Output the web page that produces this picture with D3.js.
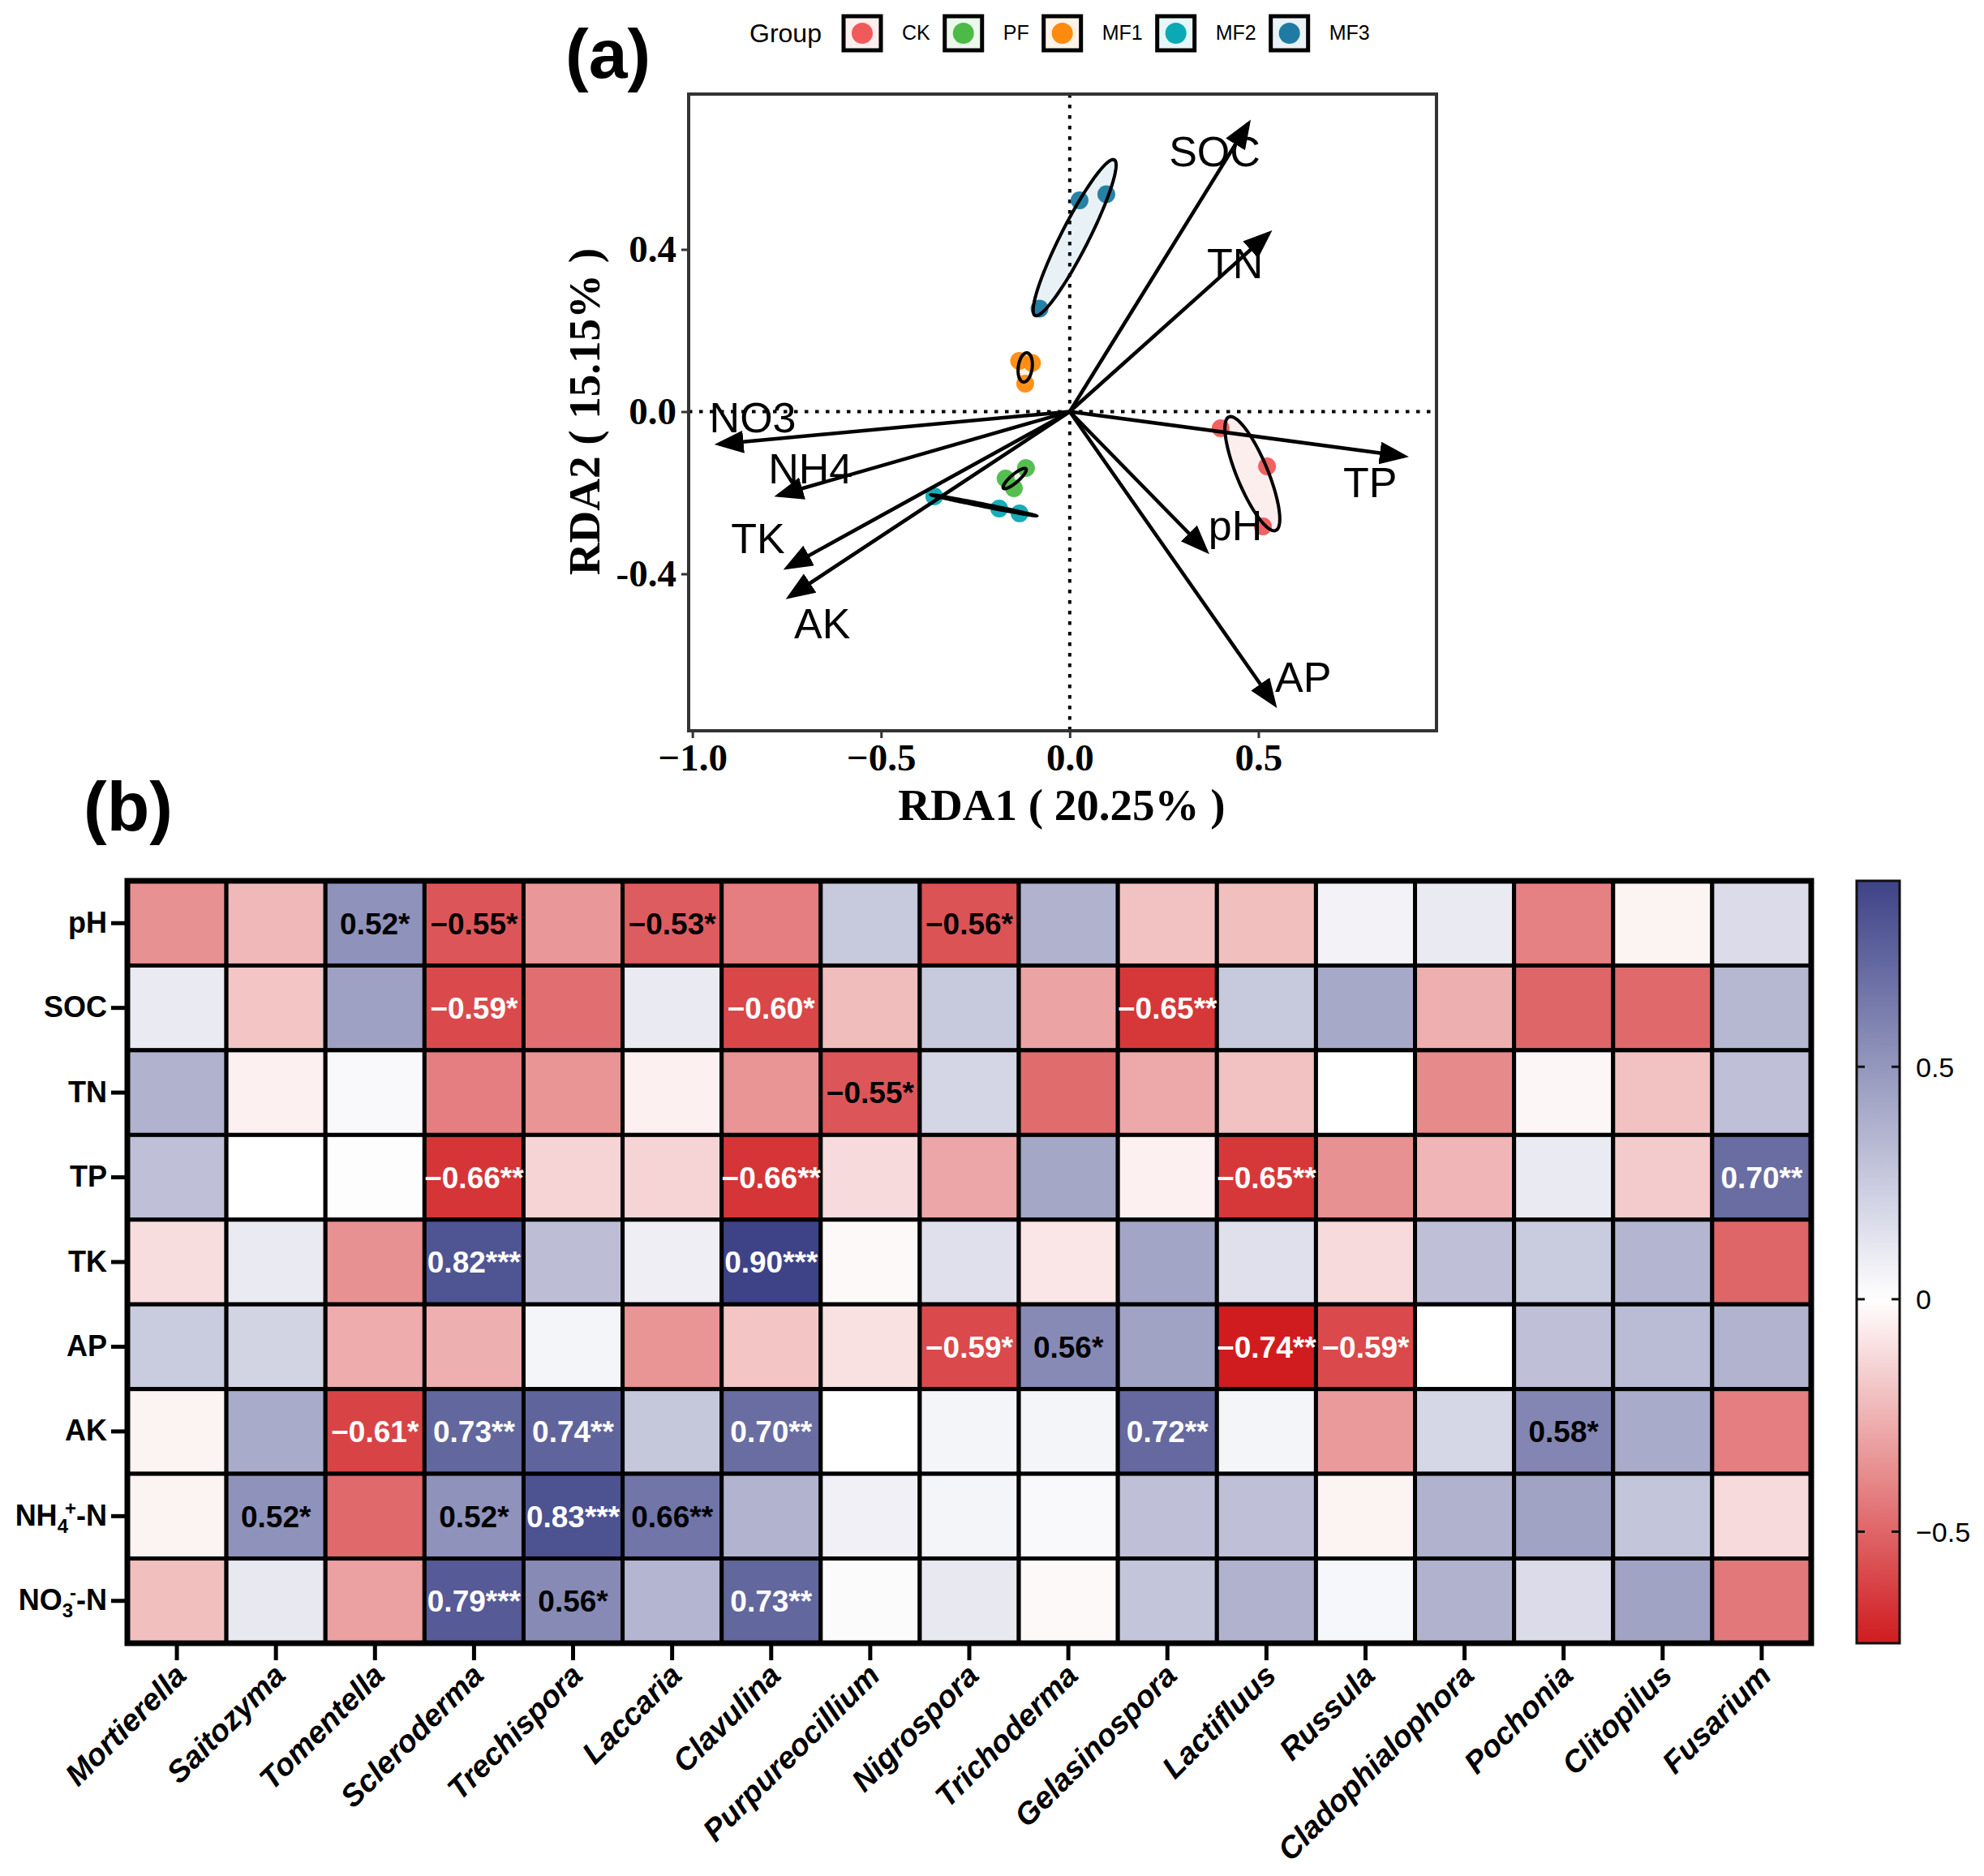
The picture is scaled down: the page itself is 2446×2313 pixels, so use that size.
<!DOCTYPE html>
<html>
<head>
<meta charset="utf-8">
<script src="https://cdn.jsdelivr.net/npm/d3@7"></script>
<style>
  body { margin: 0; background: #fff; }
</style>
</head>
<body>
<div id="chart"></div>
<script>
// ---------- (a) RDA ----------
const groups = ["CK", "PF", "MF1", "MF2", "MF3"];
const groupColors = ["#F05A5A", "#4DBA48", "#FF8A0D", "#0AA9B5", "#1E7BA3"];

// 样本点
const sampleGroup = ["MF3", "MF3", "MF3", "MF1", "MF1", "MF1", "PF", "PF", "PF", "MF2", "MF2", "MF2", "CK", "CK", "CK"];
const sampleX = [0.026, 0.097, -0.080, -0.134, -0.100, -0.118, -0.116, -0.170, -0.148, -0.359, -0.187, -0.133, 0.400, 0.523, 0.512];
const sampleY = [0.521, 0.536, 0.254, 0.125, 0.120, 0.069, -0.139, -0.165, -0.189, -0.209, -0.239, -0.251, -0.041, -0.135, -0.283];

// 置信椭圆：中心 + 两个半轴向量（数据坐标）
const ellGroup = ["MF3", "MF1", "PF", "MF2", "CK"];
const ellCx = [0.013, -0.118, -0.146, -0.228, 0.484];
const ellCy = [0.429, 0.109, -0.165, -0.231, -0.153];
const ellAx = [0.105, 0.004, 0.030, 0.140, 0.062];
const ellAy = [0.192, 0.036, 0.024, -0.026, -0.140];
const ellBx = [0.0325, 0.0185, 0.007, -0.0006, 0.038];
const ellBy = [-0.0155, 0, -0.0076, -0.003, 0.0146];

// 环境因子箭头
const envNames = ["SOC", "TN", "TP", "pH", "AP", "NO3", "NH4", "TK", "AK"];
const envX = [0.473, 0.527, 0.886, 0.361, 0.542, -0.929, -0.771, -0.748, -0.742];
const envY = [0.710, 0.439, -0.110, -0.343, -0.721, -0.080, -0.206, -0.384, -0.456];
const envLabelX = [0.384, 0.438, 0.796, 0.439, 0.619, -0.840, -0.687, -0.826, -0.656];
const envLabelY = [0.642, 0.366, -0.174, -0.280, -0.654, -0.014, -0.139, -0.312, -0.522];

const xTicks = [-1.0, -0.5, 0.0, 0.5];
const yTicks = [-0.4, 0.0, 0.4];

// ---------- (b) 热图 ----------
const genera = ["Mortierella", "Saitozyma", "Tomentella", "Scleroderma", "Trechispora", "Laccaria", "Clavulina",
  "Purpureocillium", "Nigrospora", "Trichoderma", "Gelasinospora", "Lactifluus", "Russula", "Cladophialophora",
  "Pochonia", "Clitopilus", "Fusarium"];
const soilVars = ["pH", "SOC", "TN", "TP", "TK", "AP", "AK", "NH4", "NO3"];

const corr = [
  [-0.36, -0.23, 0.52, -0.55, -0.34, -0.53, -0.42, 0.26, -0.56, 0.37, -0.20, -0.21, 0.06, 0.10, -0.41, -0.04, 0.17],
  [0.10, -0.19, 0.45, -0.59, -0.47, 0.10, -0.60, -0.22, 0.26, -0.30, -0.65, 0.26, 0.41, -0.26, -0.50, -0.49, 0.34],
  [0.37, -0.05, 0.03, -0.42, -0.35, -0.05, -0.35, -0.55, 0.20, -0.48, -0.28, -0.20, 0.00, -0.38, -0.03, -0.20, 0.30],
  [0.30, 0.00, 0.01, -0.66, -0.14, -0.14, -0.66, -0.12, -0.29, 0.42, -0.05, -0.65, -0.36, -0.24, 0.10, -0.17, 0.70],
  [-0.11, 0.10, -0.36, 0.82, 0.31, 0.08, 0.90, -0.02, 0.15, -0.08, 0.43, 0.15, -0.12, 0.30, 0.25, 0.35, -0.50],
  [0.25, 0.21, -0.27, -0.26, 0.05, -0.35, -0.19, -0.10, -0.59, 0.56, 0.44, -0.74, -0.59, 0.00, 0.30, 0.32, 0.36],
  [-0.04, 0.40, -0.61, 0.73, 0.74, 0.27, 0.70, 0.00, 0.05, 0.05, 0.72, 0.05, -0.33, 0.19, 0.58, 0.40, -0.42],
  [-0.04, 0.52, -0.49, 0.52, 0.83, 0.66, 0.36, 0.07, 0.05, 0.03, 0.30, 0.30, -0.04, 0.37, 0.44, 0.28, -0.12],
  [-0.21, 0.11, -0.31, 0.79, 0.56, 0.35, 0.73, 0.02, 0.11, -0.02, 0.28, 0.37, 0.04, 0.37, 0.17, 0.44, -0.44]
];
const stars = [
  ["", "", "*", "*", "", "*", "", "", "*", "", "", "", "", "", "", "", ""],
  ["", "", "", "*", "", "", "*", "", "", "", "**", "", "", "", "", "", ""],
  ["", "", "", "", "", "", "", "*", "", "", "", "", "", "", "", "", ""],
  ["", "", "", "**", "", "", "**", "", "", "", "", "**", "", "", "", "", "**"],
  ["", "", "", "***", "", "", "***", "", "", "", "", "", "", "", "", "", ""],
  ["", "", "", "", "", "", "", "", "*", "*", "", "**", "*", "", "", "", ""],
  ["", "", "*", "**", "**", "", "**", "", "", "", "**", "", "", "", "*", "", ""],
  ["", "*", "", "*", "***", "**", "", "", "", "", "", "", "", "", "", "", ""],
  ["", "", "", "***", "*", "", "**", "", "", "", "", "", "", "", "", "", ""]
];
const cbTicks = [-0.5, 0, 0.5];

const FONT_SANS = "Arial, 'Liberation Sans', Helvetica, sans-serif";
const FONT_SERIF = "'Times New Roman', 'Liberation Serif', serif";

const svg = d3.select("#chart").append("svg")
  .attr("width", 2446)
  .attr("height", 2313)
  .style("background", "#fff");

// ================= (a) =================
const x = d3.scaleLinear().domain([-1.01, 0.972]).range([849, 1771]);
const y = d3.scaleLinear().domain([-0.787, 0.783]).range([901, 116]);
const colorOf = d3.scaleOrdinal().domain(groups).range(groupColors);

const pa = svg.append("g");
const [x0, x1] = x.range();
const [y1, y0] = y.range();

// 零线
pa.append("line")
  .attr("x1", x(0)).attr("x2", x(0)).attr("y1", y0).attr("y2", y1)
  .attr("stroke", "#000").attr("stroke-width", 4).attr("stroke-dasharray", "4.5,8.5");
pa.append("line")
  .attr("x1", x0).attr("x2", x1).attr("y1", y(0)).attr("y2", y(0))
  .attr("stroke", "#000").attr("stroke-width", 4).attr("stroke-dasharray", "4.5,8.5");

// 样本点
pa.selectAll(".pt")
  .data(sampleX.map((d, i) => ({ x: d, y: sampleY[i], g: sampleGroup[i] })))
  .enter()
  .append("circle")
  .attr("class", "pt")
  .attr("cx", d => x(d.x))
  .attr("cy", d => y(d.y))
  .attr("r", 11)
  .attr("fill", d => colorOf(d.g))
  .attr("opacity", 0.95);

// 椭圆
const ellLine = d3.line().curve(d3.curveLinearClosed);
ellGroup.forEach((g, i) => {
  const pts = d3.range(0, 120).map(k => {
    const t = k / 120 * 2 * Math.PI;
    return [
      x(ellCx[i] + ellAx[i] * Math.cos(t) + ellBx[i] * Math.sin(t)),
      y(ellCy[i] + ellAy[i] * Math.cos(t) + ellBy[i] * Math.sin(t))
    ];
  });
  pa.append("path")
    .attr("d", ellLine(pts))
    .attr("fill", colorOf(g))
    .attr("fill-opacity", 0.1)
    .attr("stroke", "#000")
    .attr("stroke-width", 4);
});

// 箭头
svg.append("defs").append("marker")
  .attr("id", "arrow")
  .attr("markerUnits", "userSpaceOnUse")
  .attr("viewBox", "0 0 36 28")
  .attr("markerWidth", 36)
  .attr("markerHeight", 28)
  .attr("refX", 30)
  .attr("refY", 14)
  .attr("orient", "auto")
  .append("path")
  .attr("d", "M0,0 L36,14 L0,28 Z")
  .attr("fill", "#000");

pa.selectAll(".env")
  .data(envNames)
  .enter()
  .append("line")
  .attr("class", "env")
  .attr("x1", x(0)).attr("y1", y(0))
  .attr("x2", (d, i) => x(envX[i]))
  .attr("y2", (d, i) => y(envY[i]))
  .attr("stroke", "#000")
  .attr("stroke-width", 4.5)
  .attr("marker-end", "url(#arrow)");

pa.selectAll(".env-label")
  .data(envNames)
  .enter()
  .append("text")
  .attr("class", "env-label")
  .attr("x", (d, i) => x(envLabelX[i]))
  .attr("y", (d, i) => y(envLabelY[i]))
  .attr("dy", "0.36em")
  .attr("text-anchor", "middle")
  .attr("font-family", FONT_SANS)
  .attr("font-size", 52)
  .attr("fill", "#000")
  .text(d => d);

// 边框
pa.append("rect")
  .attr("x", x0).attr("y", y0)
  .attr("width", x1 - x0).attr("height", y1 - y0)
  .attr("fill", "none").attr("stroke", "#333").attr("stroke-width", 4);

// 坐标轴
const xAxisG = pa.append("g")
  .attr("transform", `translate(0,${y1})`)
  .call(d3.axisBottom(x).tickValues(xTicks).tickSize(9).tickPadding(7).tickFormat(d3.format(".1f")));
const yAxisG = pa.append("g")
  .attr("transform", `translate(${x0},0)`)
  .call(d3.axisLeft(y).tickValues(yTicks).tickSize(9).tickPadding(6)
    .tickFormat(d => d3.format(".1f")(d).replace("\u2212", "-")));
[xAxisG, yAxisG].forEach(g => {
  g.select(".domain").remove();
  g.selectAll("line").attr("stroke", "#333").attr("stroke-width", 3);
  g.selectAll("text")
    .attr("font-family", FONT_SERIF)
    .attr("font-weight", "bold")
    .attr("font-size", 47)
    .attr("fill", "#000");
});

pa.append("text")
  .attr("x", (x0 + x1) / 2 - 1)
  .attr("y", 1011)
  .attr("text-anchor", "middle")
  .attr("font-family", FONT_SERIF)
  .attr("font-weight", "bold")
  .attr("font-size", 55)
  .text("RDA1 ( 20.25% )");
pa.append("text")
  .attr("transform", `translate(739,${(y0 + y1) / 2 - 1}) rotate(-90)`)
  .attr("text-anchor", "middle")
  .attr("font-family", FONT_SERIF)
  .attr("font-weight", "bold")
  .attr("font-size", 55)
  .text("RDA2 ( 15.15% )");

// 图例
const leg = svg.append("g").attr("font-family", FONT_SANS);
leg.append("text").attr("x", 924).attr("y", 52).attr("font-size", 32).text("Group");
let lx = 1040;
groups.forEach((g, i) => {
  const item = leg.append("g").attr("transform", `translate(${lx},0)`);
  item.append("rect")
    .attr("x", 0).attr("y", 20).attr("width", 46).attr("height", 42)
    .attr("fill", d3.interpolateRgb("#fff", groupColors[i])(0.1))
    .attr("stroke", "#000").attr("stroke-width", 5);
  item.append("circle").attr("cx", 23).attr("cy", 41).attr("r", 13).attr("fill", groupColors[i]);
  const t = item.append("text").attr("x", 72).attr("y", 49).attr("font-size", 25).text(g);
  lx += 72 + t.node().getComputedTextLength() + 18;
});

// 面板标签
svg.append("text").attr("x", 697).attr("y", 96)
  .attr("font-family", FONT_SANS).attr("font-weight", "bold").attr("font-size", 86).text("(a)");
svg.append("text").attr("x", 103).attr("y", 1024)
  .attr("font-family", FONT_SANS).attr("font-weight", "bold").attr("font-size", 86).text("(b)");

// ================= (b) =================
const xb = d3.scaleBand().domain(genera).range([157, 2233]);
const yb = d3.scaleBand().domain(soilVars).range([1086, 2026]);
const flat = corr.flat();
const vmin = d3.min(flat), vmax = d3.max(flat);
const color = d3.scaleLinear().domain([vmin, 0, vmax]).range(["#D01C1F", "#FFFFFF", "#3E4388"]);

const cells = [];
soilVars.forEach((r, i) => genera.forEach((g, j) => {
  cells.push({ r, g, v: corr[i][j], s: stars[i][j] });
}));

const pb = svg.append("g");
pb.selectAll(".cell")
  .data(cells)
  .enter()
  .append("rect")
  .attr("class", "cell")
  .attr("x", d => xb(d.g))
  .attr("y", d => yb(d.r))
  .attr("width", xb.bandwidth())
  .attr("height", yb.bandwidth())
  .attr("fill", d => color(d.v))
  .attr("stroke", "#000")
  .attr("stroke-width", 5);

pb.selectAll(".cell-label")
  .data(cells.filter(d => d.s !== ""))
  .enter()
  .append("text")
  .attr("class", "cell-label")
  .attr("x", d => xb(d.g) + xb.bandwidth() / 2)
  .attr("y", d => yb(d.r) + yb.bandwidth() / 2)
  .attr("dy", "0.36em")
  .attr("text-anchor", "middle")
  .attr("font-family", FONT_SANS)
  .attr("font-weight", "bold")
  .attr("font-size", 37)
  .attr("fill", d => (d.v <= -0.57 || d.v >= 0.68) ? "#fff" : "#000")
  .text(d => d3.format(".2f")(d.v) + d.s);

pb.append("rect")
  .attr("x", xb.range()[0]).attr("y", yb.range()[0])
  .attr("width", xb.range()[1] - xb.range()[0])
  .attr("height", yb.range()[1] - yb.range()[0])
  .attr("fill", "none").attr("stroke", "#000").attr("stroke-width", 7);

// 行标签
const rowAxis = pb.append("g")
  .attr("transform", `translate(${xb.range()[0] - 3},0)`)
  .call(d3.axisLeft(yb).tickSize(17).tickPadding(5));
rowAxis.select(".domain").remove();
rowAxis.selectAll("line").attr("stroke", "#000").attr("stroke-width", 5);
rowAxis.selectAll("text")
  .attr("font-family", FONT_SANS)
  .attr("font-weight", "bold")
  .attr("font-size", 36)
  .attr("fill", "#000")
  .each(function (d) {
    const t = d3.select(this);
    if (d === "NH4" || d === "NO3") {
      t.text("");
      t.append("tspan").text(d === "NH4" ? "NH" : "NO");
      t.append("tspan").attr("font-size", 24).attr("dy", 9).text(d === "NH4" ? "4" : "3");
      t.append("tspan").attr("font-size", 24).attr("dy", -22).attr("dx", -4).text(d === "NH4" ? "+" : "-");
      t.append("tspan").attr("dy", 13).text("-N");
    }
  });

// 列标签
const colAxis = pb.append("g")
  .attr("transform", `translate(0,${yb.range()[1] + 3})`)
  .call(d3.axisBottom(xb).tickSize(18));
colAxis.select(".domain").remove();
colAxis.selectAll("line").attr("stroke", "#000").attr("stroke-width", 5);
colAxis.selectAll("text")
  .attr("y", 0).attr("dy", 0)
  .attr("transform", "translate(14,39) rotate(-45)")
  .attr("text-anchor", "end")
  .attr("font-family", FONT_SANS)
  .attr("font-weight", "bold")
  .attr("font-style", "italic")
  .attr("font-size", 38)
  .attr("fill", "#000");

// 色标
const cb = d3.scaleLinear().domain([vmin, vmax]).range([2026, 1086]);
const grad = svg.select("defs").append("linearGradient")
  .attr("id", "cbGrad").attr("x1", 0).attr("y1", 1).attr("x2", 0).attr("y2", 0);
d3.range(0, 21).forEach(k => {
  const v = vmin + (vmax - vmin) * k / 20;
  grad.append("stop").attr("offset", k / 20).attr("stop-color", color(v));
});
const cbx = 2289, cbw = 53;
pb.append("rect")
  .attr("x", cbx).attr("y", cb.range()[1])
  .attr("width", cbw).attr("height", cb.range()[0] - cb.range()[1])
  .attr("fill", "url(#cbGrad)").attr("stroke", "#111").attr("stroke-width", 3);
cbTicks.forEach(v => {
  pb.append("line").attr("x1", cbx).attr("x2", cbx + 10).attr("y1", cb(v)).attr("y2", cb(v))
    .attr("stroke", "#111").attr("stroke-width", 3);
  pb.append("line").attr("x1", cbx + cbw - 10).attr("x2", cbx + cbw).attr("y1", cb(v)).attr("y2", cb(v))
    .attr("stroke", "#111").attr("stroke-width", 3);
  pb.append("text")
    .attr("x", 2362).attr("y", cb(v)).attr("dy", "0.36em")
    .attr("font-family", FONT_SANS).attr("font-size", 34)
    .text(v === 0 ? "0" : d3.format(".1f")(v));
});
</script>
</body>
</html>
